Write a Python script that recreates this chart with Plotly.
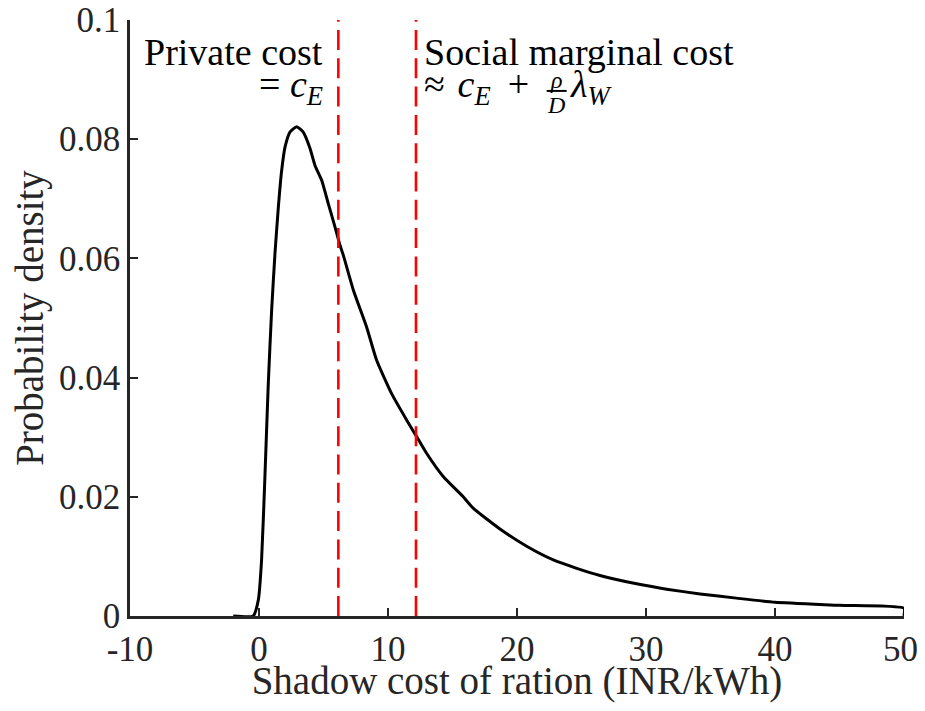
import plotly.graph_objects as go

# ---- data ----
shadow_cost = [-2.0, -0.45, -0.05, 0.2, 0.46, 0.72, 0.98, 1.24, 1.5, 1.76, 2.02, 2.4, 2.92,
               3.43, 3.95, 4.34, 4.86, 5.37, 5.89, 6.28, 6.54, 7.31, 8.34, 9.12, 10.28,
               11.44, 12.22, 12.99, 14.28, 15.83, 16.6, 18.68, 20.75, 22.82, 24.63, 26.43,
               29.27, 31.6, 34.19, 37.0, 40.0, 45.0, 50.0, 50.0]
density = [0, 0, 0.0027, 0.0094, 0.0234, 0.039, 0.0513, 0.0609, 0.0686, 0.0748, 0.0787,
           0.0812, 0.0821, 0.0812, 0.0785, 0.0756, 0.0731, 0.0692, 0.0653, 0.0622, 0.0605,
           0.0547, 0.0485, 0.0429, 0.0373, 0.0329, 0.0301, 0.0273, 0.0234, 0.0200, 0.0181,
           0.0146, 0.0117, 0.0094, 0.0080, 0.0068, 0.0054, 0.0045, 0.0037, 0.0030, 0.0023,
           0.0018, 0.0013, 0]

private_cost = 6.15
social_cost = 12.17

x_ticks = [-10, 0, 10, 20, 30, 40, 50]
x_ticktext = ["-10", "0", "10", "20", "30", "40", "50\u2009"]
y_ticks = [0, 0.02, 0.04, 0.06, 0.08, 0.1]
y_ticktext = ["0", "0.02", "0.04", "0.06", "0.08", "0.1"]

x_range = [-10, 50]
y_range = [0, 0.1]

FONT = "Liberation Serif, Times New Roman, serif"
AX = "#262626"

fig = go.Figure()
fig.add_trace(go.Scatter(x=shadow_cost, y=density, mode="lines",
                         line=dict(color="black", width=3, shape="spline", smoothing=0.5),
                         showlegend=False, hoverinfo="skip"))
for xv in (private_cost, social_cost):
    fig.add_trace(go.Scatter(x=[xv, xv], y=y_range, mode="lines",
                             line=dict(color="#FF0000", width=2.6, dash="20px,8.3px"),
                             showlegend=False, hoverinfo="skip"))

ann_font = dict(family=FONT, size=38, color="black")
small_font = dict(family=FONT, size=24, color="black")

annotations = [
    dict(x=private_cost - 1.0, y=0.0946, text="Private cost", xanchor="right",
         yanchor="middle", font=ann_font),
    dict(x=private_cost - 1.0, y=0.0887, text="= <i>c</i><sub><i>E</i></sub>",
         xanchor="right", yanchor="middle", font=ann_font),
    dict(x=social_cost + 0.5, y=0.0946, text="Social marginal cost", xanchor="left",
         yanchor="middle", font=ann_font),
    dict(x=social_cost + 0.5, y=0.0887,
         text="≈\u200a <i>c</i><sub><i>E</i></sub> \u2009+",
         xanchor="left", yanchor="middle", font=ann_font),
    dict(x=23.06, y=0.0900, text="<i>ρ</i>", xanchor="center", yanchor="middle",
         font=small_font),
    dict(x=23.06, y=0.0857, text="<i>D</i>", xanchor="center", yanchor="middle",
         font=small_font),
    dict(x=23.95, y=0.0887, text="<i>λ</i><sub><i>W</i></sub>", xanchor="left",
         yanchor="middle", font=ann_font),
]
for a in annotations:
    a.update(xref="x", yref="y", showarrow=False)

fig.add_shape(type="line", xref="x", yref="y", x0=22.3, x1=23.85, y0=0.0881, y1=0.0881,
              line=dict(color="black", width=2))

# the page body adds an 8px margin, so the figure is sized to fit inside the window
fig.update_layout(
    width=917, height=695,
    margin=dict(l=122, r=21, t=12, b=87),
    paper_bgcolor="white", plot_bgcolor="white",
    font=dict(family=FONT, size=35, color=AX),
    annotations=annotations,
    xaxis=dict(range=x_range, tickvals=x_ticks, ticktext=x_ticktext, automargin=False,
               showline=True, linecolor=AX, linewidth=2.5, mirror=False,
               ticks="inside", ticklen=8, tickwidth=2, tickcolor=AX,
               showgrid=False, zeroline=False, ticklabeloverflow="allow",
               tickfont=dict(family=FONT, size=35, color=AX),
               title=dict(text="Shadow cost of ration (INR/kWh)",
                          font=dict(family=FONT, size=39, color=AX), standoff=0)),
    yaxis=dict(range=y_range, tickvals=y_ticks, ticktext=y_ticktext, automargin=False,
               showline=True, linecolor=AX, linewidth=2.5, mirror=False,
               ticks="inside", ticklen=8, tickwidth=2, tickcolor=AX,
               showgrid=False, zeroline=False, ticklabeloverflow="allow",
               tickfont=dict(family=FONT, size=35, color=AX),
               title=dict(text="Probability density",
                          font=dict(family=FONT, size=39, color=AX), standoff=10)),
)

fig.write_html("out.html")
